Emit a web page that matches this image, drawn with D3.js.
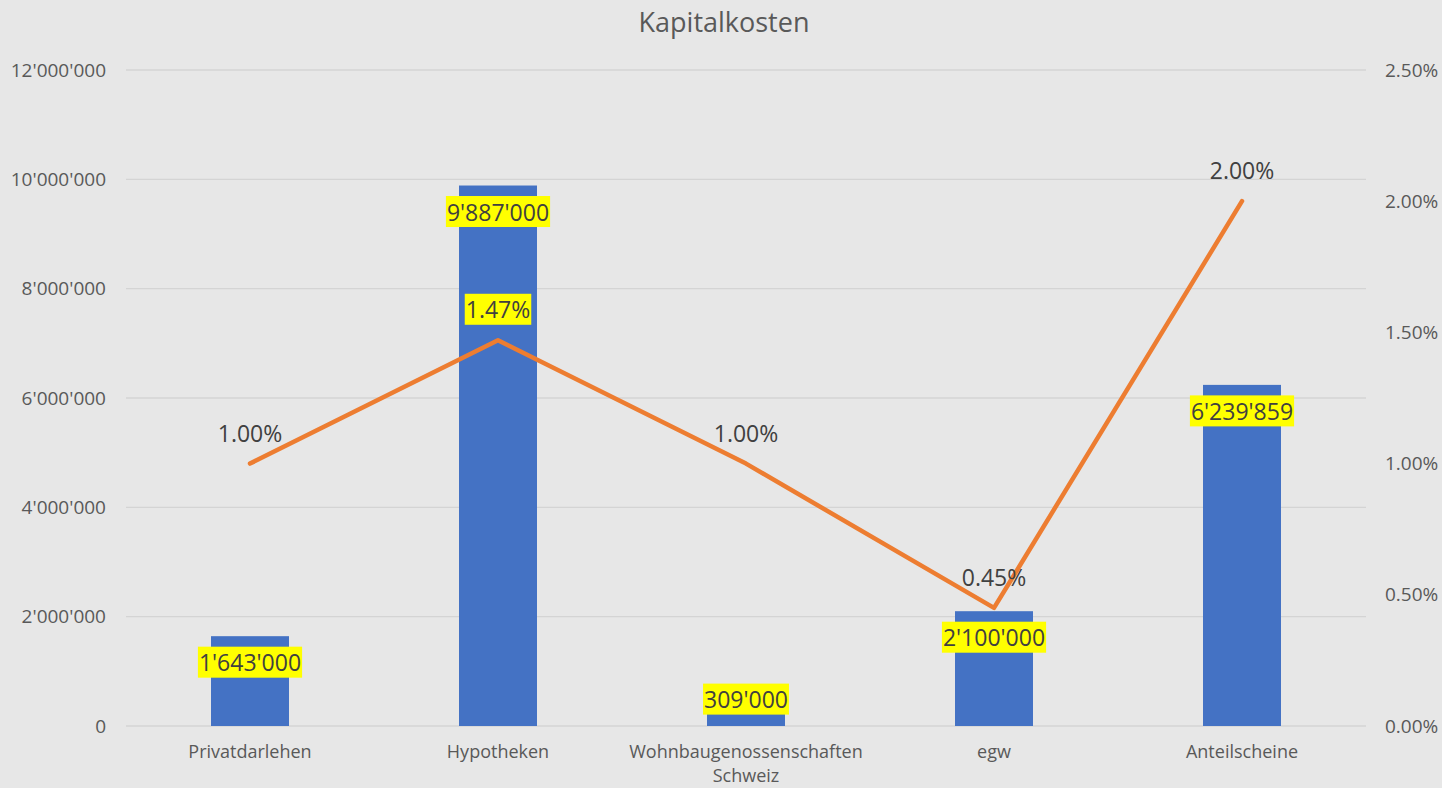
<!DOCTYPE html>
<html>
<head>
<meta charset="utf-8">
<script src="https://cdn.jsdelivr.net/npm/d3@7"></script>
<style>
  body { margin: 0; background: #e7e7e7; }
  svg { display: block; font-family: "Open Sans", "Liberation Sans", sans-serif; }
</style>
</head>
<body>
<div id="chart"></div>
<script>
// chart data
var categories = ["Privatdarlehen", "Hypotheken", "Wohnbaugenossenschaften Schweiz", "egw", "Anteilscheine"];
var amounts = [1643000, 9887000, 309000, 2100000, 6239859];
var rates = [0.01, 0.0147, 0.01, 0.0045, 0.02];
var rateLabelHighlight = [false, true, false, false, false];
var leftTicks = [0, 2000000, 4000000, 6000000, 8000000, 10000000, 12000000];
var rightTicks = [0, 0.005, 0.01, 0.015, 0.02, 0.025];

var W = 1442, H = 788;
var margin = {top: 70, right: 76, bottom: 62, left: 126},
    width = W - margin.left - margin.right,
    height = H - margin.top - margin.bottom;

var svg = d3.select("#chart").append("svg")
    .attr("width", W).attr("height", H);

svg.append("rect").attr("width", W).attr("height", H).attr("fill", "#e7e7e7");

// title
svg.append("text")
    .attr("x", W / 2 + 3).attr("y", 32)
    .attr("text-anchor", "middle")
    .attr("fill", "#595959")
    .style("font-size", "27px")
    .text("Kapitalkosten");

var g = svg.append("g").attr("transform", "translate(" + margin.left + "," + margin.top + ")");

var fmt = function(v) { return d3.format(",")(v).replace(/,/g, "'"); };
var pct = d3.format(".2%");

var x = d3.scaleBand().domain(categories).range([0, width]);
var y = d3.scaleLinear().domain([0, 12000000]).range([height, 0]);
var y2 = d3.scaleLinear().domain([0, 0.025]).range([height, 0]);

// gridlines
g.selectAll(".grid").data(leftTicks).enter().append("line")
    .attr("x1", 0).attr("x2", width)
    .attr("y1", function(d) { return y(d); }).attr("y2", function(d) { return y(d); })
    .attr("stroke", "#d4d4d4").attr("stroke-width", 1.3);

// left axis
var yAxis = g.append("g").call(d3.axisLeft(y).tickValues(leftTicks).tickFormat(fmt).tickSize(0).tickPadding(20));
yAxis.select(".domain").remove();
yAxis.selectAll("text").attr("fill", "#595959").style("font-size", "19px").style("font-family", "Open Sans, sans-serif");

// right axis
var yAxis2 = g.append("g").attr("transform", "translate(" + width + ",0)")
    .call(d3.axisRight(y2).tickValues(rightTicks).tickFormat(pct).tickSize(0).tickPadding(19));
yAxis2.select(".domain").remove();
yAxis2.selectAll("text").attr("fill", "#595959").style("font-size", "19px").style("font-family", "Open Sans, sans-serif");

// x axis labels
var xl = g.append("g").selectAll("text").data(categories).enter().append("text")
    .attr("x", function(d) { return x(d) + x.bandwidth() / 2; })
    .attr("y", height + 32)
    .attr("text-anchor", "middle")
    .attr("fill", "#595959")
    .style("font-size", "18px");
xl.each(function(d) {
    var words = d.split(" ");
    var t = d3.select(this);
    words.forEach(function(w, i) {
        t.append("tspan").attr("x", x(d) + x.bandwidth() / 2).attr("dy", i === 0 ? 0 : 24).text(w);
    });
});

// bars
var bw = 78;
g.selectAll(".bar").data(amounts).enter().append("rect")
    .attr("x", function(d, i) { return x(categories[i]) + x.bandwidth() / 2 - bw / 2; })
    .attr("width", bw)
    .attr("y", function(d) { return y(d); })
    .attr("height", function(d) { return height - y(d); })
    .attr("fill", "#4472c4");

// line
var line = d3.line()
    .x(function(d, i) { return x(categories[i]) + x.bandwidth() / 2; })
    .y(function(d) { return y2(d); });
g.append("path").datum(rates)
    .attr("d", line)
    .attr("fill", "none")
    .attr("stroke", "#ed7d31")
    .attr("stroke-width", 4.5)
    .attr("stroke-linecap", "round")
    .attr("stroke-linejoin", "round");

// label helper with optional yellow box
function label(cx, cy, txt, highlight) {
    var grp = g.append("g");
    var t = grp.append("text")
        .attr("x", cx).attr("y", cy)
        .attr("text-anchor", "middle")
        .attr("dominant-baseline", "central")
        .attr("fill", "#404040")
        .style("font-size", "23px")
        .text(txt);
    if (highlight) {
        var bb = t.node().getBBox();
        grp.insert("rect", "text")
            .attr("x", bb.x - 1).attr("y", cy - 15.5)
            .attr("width", bb.width + 2).attr("height", 31)
            .attr("fill", "#ffff00");
    }
}

// bar labels (inside end; short bar gets label pushed up over its top)
amounts.forEach(function(d, i) {
    var cx = x(categories[i]) + x.bandwidth() / 2;
    var h = height - y(d);
    var cy = h > 40 ? y(d) + 26 : y(d) - 10;
    label(cx, cy, fmt(d), true);
});

// line labels (above point)
rates.forEach(function(d, i) {
    var cx = x(categories[i]) + x.bandwidth() / 2;
    label(cx, y2(d) - 31, pct(d), rateLabelHighlight[i]);
});
</script>
</body>
</html>
